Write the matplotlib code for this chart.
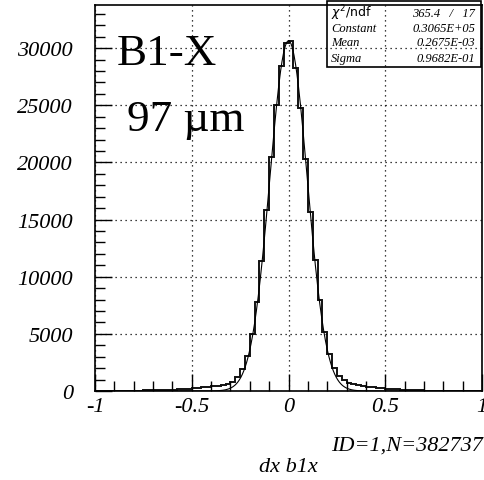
import numpy as np
import matplotlib.pyplot as plt
from matplotlib.patches import Rectangle
from matplotlib.ticker import MultipleLocator, FixedLocator

plt.rcParams['axes.unicode_minus'] = False

# histogram: 80 bins from -1 to 1
x_lo, x_hi, n_bins = -1.0, 1.0, 80
counts_left = [10, 11, 13, 15, 18, 21, 24, 28, 33, 38,
               45, 53, 62, 72, 85, 100, 118, 140, 165, 195,
               230, 270, 310, 360, 420, 480, 560, 650, 780, 1200,
               1900, 3100, 5000, 7800, 11400, 15800, 20500, 25000, 28400, 30450]
counts_right = [30600, 28300, 24800, 20300, 15700, 11500, 8000, 5200, 3200, 2000,
                1300, 950, 720, 600, 520, 450, 390, 330, 280, 240,
                200, 165, 135, 110, 90, 74, 60, 48, 39, 31,
                25, 20, 16, 13, 11, 9, 8, 7, 6, 5]
counts = np.array(counts_left + counts_right)

# gaussian fit parameters (from the stats box)
fit_chi2, fit_ndf = 365.4, 17
fit_const = 0.3065e5
fit_mean = 0.2675e-3
fit_sigma = 0.9682e-1

x_ticks = [-1, -0.5, 0, 0.5, 1]
x_ticklabels = ['-1', '-0.5', '0', '0.5', '1']
y_ticks = [0, 5000, 10000, 15000, 20000, 25000, 30000]

W, H = 484, 481
serif = 'Liberation Serif'


def fx(px):
    return px / W


def fy(py):
    return 1 - py / H


fig = plt.figure(figsize=(W / 100, H / 100), dpi=100)
ax = fig.add_axes([fx(95), fy(392), 387 / W, 386 / H])

edges = np.linspace(x_lo, x_hi, n_bins + 1)
ax.stairs(counts, edges, color='#111111', lw=1.4)

xs = np.linspace(x_lo, x_hi, 800)
ax.plot(xs, fit_const * np.exp(-0.5 * ((xs - fit_mean) / fit_sigma) ** 2),
        color='black', lw=0.8)

ax.set_xlim(x_lo, x_hi)
ax.set_ylim(0, 33780)

ax.xaxis.set_major_locator(FixedLocator(x_ticks))
ax.set_xticklabels(x_ticklabels)
ax.xaxis.set_minor_locator(MultipleLocator(0.1))
ax.yaxis.set_major_locator(FixedLocator(y_ticks))
ax.set_yticklabels([str(v) for v in y_ticks])
ax.yaxis.set_minor_locator(MultipleLocator(1000))

ax.tick_params(which='both', direction='in', top=False, right=False, width=1)
ax.tick_params(which='major', length=12)
ax.tick_params(which='minor', length=7)
ax.tick_params(axis='x', pad=4)
ax.tick_params(axis='y', pad=16)
for lab in ax.get_xticklabels() + ax.get_yticklabels():
    lab.set_fontfamily(serif)
    lab.set_fontstyle('italic')
    lab.set_fontsize(16)

ax.grid(True, which='major', color='black', lw=0.9, linestyle=(0, (1, 3)))
for s in ax.spines.values():
    s.set_linewidth(1.2)

# big labels
fig.text(fx(117), fy(65), 'B1-X', fontfamily=serif, fontsize=32.5)
fig.text(fx(127), fy(131), '97 \u00b5m', fontfamily=serif, fontsize=32.5)

# axis texts
fig.text(fx(483), fy(451), 'ID=1,N=382737', fontfamily=serif, fontstyle='italic',
         fontsize=16, ha='right')
fig.text(fx(288), fy(472), 'dx b1x', fontfamily=serif, fontstyle='italic',
         fontsize=16, ha='center')

# stats box
fig.patches.append(Rectangle((fx(327), fy(68)), (481 - 327) / W, (68 - 1.5) / H,
                             transform=fig.transFigure, fill=False,
                             edgecolor='black', lw=1.2))
rows = [(r'$\chi^2$/ndf', f'{fit_chi2}   /   {fit_ndf}'),
        ('Constant', '0.3065E+05'),
        ('Mean', '0.2675E-03'),
        ('Sigma', '0.9682E-01')]
row_y = [17, 32, 46, 62]
for (name, val), yy in zip(rows, row_y):
    if name.startswith('$'):
        fig.text(fx(331), fy(yy), name, fontfamily='DejaVu Sans', fontsize=9)
    else:
        fig.text(fx(331), fy(yy), name, fontfamily=serif, fontstyle='italic',
                 fontsize=9)
    fig.text(fx(475), fy(yy), val, fontfamily=serif, fontstyle='italic',
             fontsize=9, ha='right')

fig.savefig('out.png', dpi=100)
